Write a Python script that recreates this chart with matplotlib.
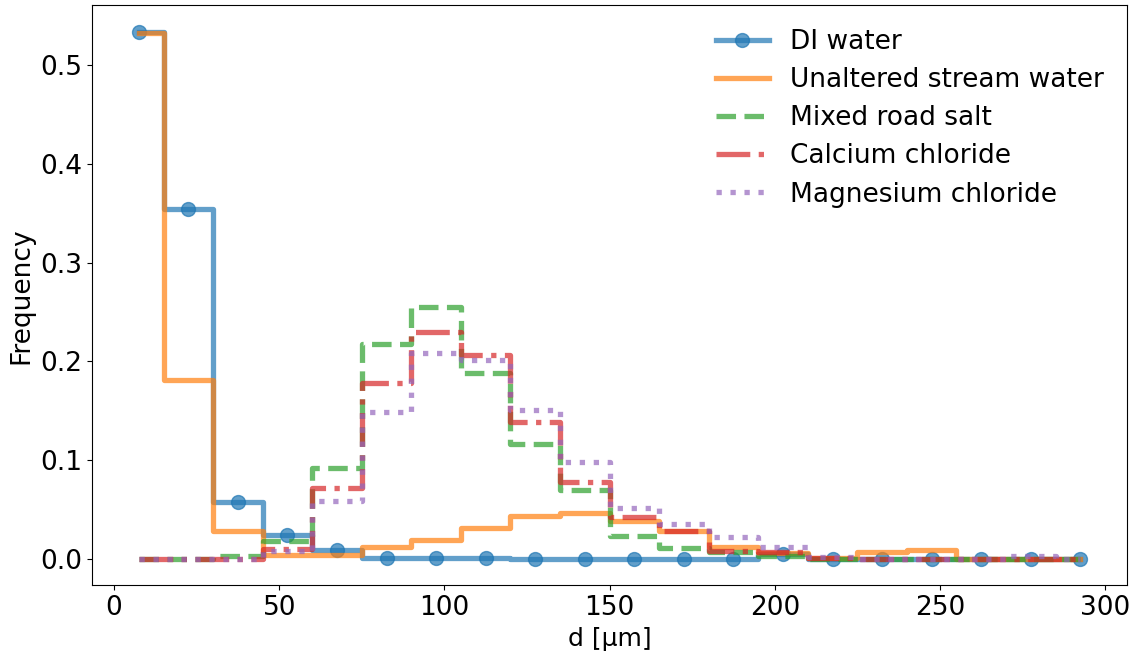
import numpy as np
import matplotlib.pyplot as plt

# bin centres, 15 um bins from 0 to 300
d = np.arange(7.5, 300, 15)

di_water = [0.534, 0.354, 0.058, 0.024, 0.009, 0.001, 0.001, 0.001, 0.0, 0.0,
            0.0, 0.0, 0.0, 0.005, 0.0, 0.0, 0.0, 0.0, 0.0, 0.0]
stream = [0.533, 0.181, 0.028, 0.004, 0.004, 0.012, 0.019, 0.031, 0.043, 0.047,
          0.038, 0.028, 0.012, 0.006, 0.001, 0.007, 0.009, 0.0, 0.0, 0.0]
mixed_salt = [0.0, 0.0, 0.003, 0.018, 0.092, 0.218, 0.255, 0.188, 0.116, 0.070,
              0.023, 0.011, 0.007, 0.003, 0.0, 0.0, 0.0, 0.0, 0.0, 0.0]
ca_chloride = [0.0, 0.0, 0.0, 0.010, 0.072, 0.178, 0.230, 0.207, 0.139, 0.078,
               0.042, 0.028, 0.008, 0.007, 0.001, 0.0, 0.0, 0.0, 0.0, 0.0]
mg_chloride = [0.0, 0.0, 0.0, 0.008, 0.059, 0.149, 0.209, 0.201, 0.151, 0.098,
               0.052, 0.035, 0.022, 0.012, 0.002, 0.0, 0.0, 0.0, 0.003, 0.0]

fig, ax = plt.subplots(figsize=(11.32, 6.54), dpi=100)
fig.subplots_adjust(left=0.081, right=0.996, top=0.992, bottom=0.105)

lw = 3.8
ax.step(d, di_water, where='mid', color='tab:blue', lw=lw, alpha=0.7,
        marker='o', markersize=10, label='DI water')
ax.step(d, stream, where='mid', color='tab:orange', lw=lw, alpha=0.7,
        label='Unaltered stream water')
ax.step(d, mixed_salt, where='mid', color='tab:green', lw=lw, alpha=0.7,
        ls='--', label='Mixed road salt')
ax.step(d, ca_chloride, where='mid', color='tab:red', lw=lw, alpha=0.7,
        ls='-.', label='Calcium chloride')
ax.step(d, mg_chloride, where='mid', color='tab:purple', lw=lw, alpha=0.7,
        ls=':', label='Magnesium chloride')

ax.set_xlabel('d [µm]', fontsize=18)
ax.set_ylabel('Frequency', fontsize=19)
ax.tick_params(labelsize=19)
ax.legend(loc='upper right', frameon=False, fontsize=19, labelspacing=0.46)

plt.savefig('out.png')
